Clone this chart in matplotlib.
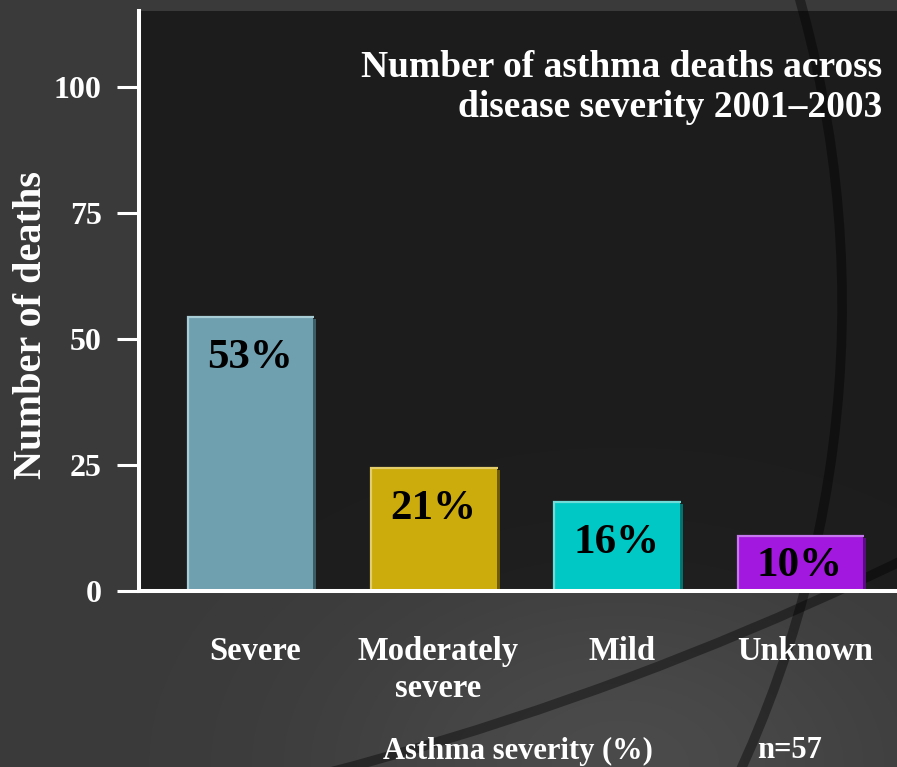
import numpy as np
import matplotlib
matplotlib.use("Agg")
import matplotlib.pyplot as plt
from matplotlib.patches import Arc
from matplotlib.transforms import ScaledTranslation, blended_transform_factory

# ---- data -------------------------------------------------------------
categories = ["Severe", "Moderately\nsevere", "Mild", "Unknown"]
deaths = [54.6, 24.5, 17.7, 11.0]
share_labels = ["53%", "21%", "16%", "10%"]
yticks = [0, 25, 50, 75, 100]
sample_note = "n=57"

# ---- styling ----------------------------------------------------------
face_colors = ["#6fa0b0", "#ccab0c", "#00c8c4", "#a318de"]
light_colors = ["#a9cdd7", "#e2cd6a", "#70dcd9", "#c878ee"]
shadow_colors = ["#3c5c66", "#6e5a00", "#007470", "#5a0d80"]

W, H, DPI = 897, 767, 100
FONT = "Liberation Serif"
TXT = dict(family=FONT, weight="bold", color="white")

fig = plt.figure(figsize=(W / DPI, H / DPI), dpi=DPI)

# ---- slide backdrop: soft glow plus two dark sweeping arcs --------------
bg = fig.add_axes([0, 0, 1, 1])
yy, xx = np.mgrid[0:H, 0:W]
glow = 58 + 17 * np.exp(-(((xx - 620) / 280.0) ** 2 + ((yy - 767) / 190.0) ** 2))
img = np.dstack([glow / 255.0] * 3)
bg.imshow(img, extent=(0, W, H, 0), interpolation="bilinear", aspect="auto")
bg.set_xlim(0, W)
bg.set_ylim(H, 0)
bg.axis("off")


def circle_through(p1, p2, p3):
    (x1, y1), (x2, y2), (x3, y3) = p1, p2, p3
    A = 2 * np.array([[x2 - x1, y2 - y1], [x3 - x1, y3 - y1]], dtype=float)
    b = np.array([x2**2 - x1**2 + y2**2 - y1**2, x3**2 - x1**2 + y3**2 - y1**2], dtype=float)
    c = np.linalg.solve(A, b)
    return c, np.hypot(x1 - c[0], y1 - c[1])


for pts in [((800, 0), (838, 400), (742, 767)), ((350, 767), (700, 650), (897, 563))]:
    c, r = circle_through(*pts)
    a0 = np.degrees(np.arctan2(pts[0][1] - c[1], pts[0][0] - c[0]))
    a1 = np.degrees(np.arctan2(pts[2][1] - c[1], pts[2][0] - c[0]))
    lo, hi = sorted([a0, a1])
    if hi - lo > 180:
        lo, hi = hi, lo + 360
    bg.add_patch(Arc(c, 2 * r, 2 * r, theta1=lo - 4, theta2=hi + 4,
                     lw=7, color=(0, 0, 0, 0.4)))

# ---- chart ------------------------------------------------------------
ax = fig.add_axes([139 / W, (H - 590.5) / H, (W - 139) / W, (590.5 - 11) / H])
ax.set_facecolor((0, 0, 0, 0.5))
x = np.arange(len(categories))
bar_w = 0.69
ymax = 115.2
ax.set_xlim(-0.606, 3.53)
ax.set_ylim(0, ymax)

# drop shadow, bar face, then a thin highlight along left and top edges
shadow_tr = ax.transData + ScaledTranslation(3 / DPI, -3 / DPI, fig.dpi_scale_trans)
ax.bar(x, deaths, width=bar_w, color=shadow_colors, edgecolor="none",
       transform=shadow_tr, zorder=1)
ax.bar(x, deaths, width=bar_w, color=face_colors, edgecolor="none", zorder=2)
hl_tr = ax.transData + ScaledTranslation(1 / DPI, -1 / DPI, fig.dpi_scale_trans)
for xi, h, lc in zip(x, deaths, light_colors):
    left, right = xi - bar_w / 2, xi + bar_w / 2
    ax.plot([left, left, right], [0, h, h], color=lc, lw=1.6,
            solid_capstyle="butt", solid_joinstyle="miter", transform=hl_tr, zorder=3)

px_per_unit = ax.bbox.height / ymax
for xi, h, lab in zip(x, deaths, share_labels):
    off = min(42, h * px_per_unit / 2 + 3)
    ax.annotate(lab, xy=(xi, h), xytext=(0, -off), textcoords="offset pixels",
                ha="center", va="center", fontsize=31, family=FONT,
                weight="bold", color="black", zorder=4)

# axes lines and ticks
for side in ("top", "right"):
    ax.spines[side].set_visible(False)
for side in ("left", "bottom"):
    ax.spines[side].set_color("white")
    ax.spines[side].set_linewidth(2.9)
    ax.spines[side].set_zorder(5)
ax.set_yticks(yticks)
ax.set_yticklabels([str(t) for t in yticks], fontsize=23, family=FONT,
                   weight="bold", color="white")
ax.tick_params(axis="y", direction="out", length=16, width=2.2, color="white", pad=11)
ax.set_xticks([])

# category names under the bars
cat_tr = blended_transform_factory(ax.transData, ax.transAxes) + \
    ScaledTranslation(5 / DPI, 0, fig.dpi_scale_trans)
for xi, name in zip(x, categories):
    ax.text(xi, -0.078, name, transform=cat_tr, ha="center", va="top",
            fontsize=23.5, linespacing=1.27, clip_on=False, **TXT)

ax.text(0.98, 0.933, "Number of asthma deaths across\ndisease severity 2001\u20132003",
        transform=ax.transAxes, ha="right", va="top", multialignment="right",
        fontsize=27, linespacing=1.18, **TXT)

fig.text(32 / W, (H - 325) / H, "Number of deaths", rotation=90,
         ha="center", va="center", fontsize=29, **TXT)
fig.text(518 / W, (H - 751) / H, "Asthma severity (%)", ha="center", va="center",
         fontsize=22, **TXT)
fig.text(790 / W, (H - 751) / H, sample_note, ha="center", va="center",
         fontsize=22, **TXT)

fig.savefig("out.png", dpi=DPI)
